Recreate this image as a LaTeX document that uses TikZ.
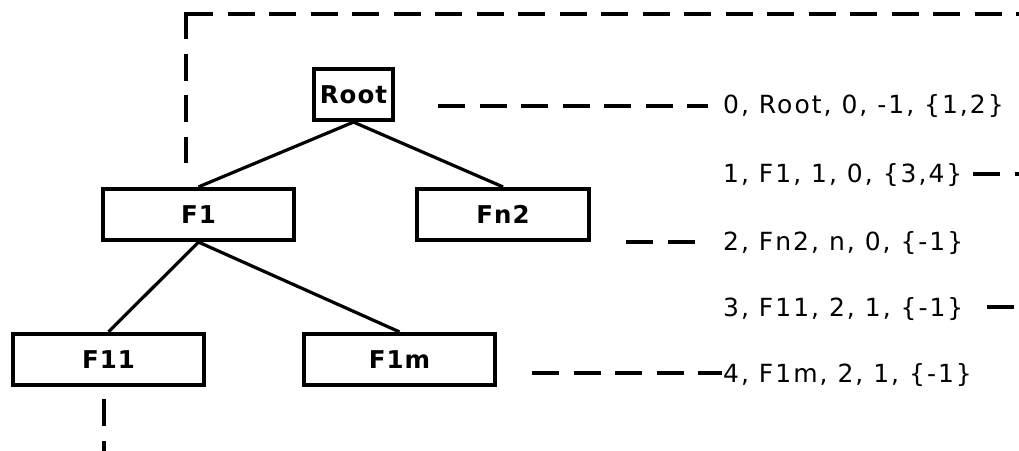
\documentclass[tikz,border=0pt]{standalone}
\usepackage{fontspec}
\setmainfont{DejaVu Sans}[LetterSpace=8]
\newfontfamily\labelfont{DejaVu Sans}[LetterSpace=4]
\begin{document}
\begin{tikzpicture}[x=1pt,y=-1pt,
  box/.style={draw, line width=4.2pt, rectangle, inner sep=0pt, minimum height=51pt,
    font=\labelfont\fontsize{24.5}{28}\selectfont\bfseries},
  edge/.style={line width=3.2pt},
  dsh/.style={line width=3.4pt, dash pattern=on 27pt off 14.5pt},
  rowtxt/.style={anchor=base west, inner sep=0pt, font=\fontsize{25}{30}\selectfont}]
\useasboundingbox (0,0) rectangle (1019,450);
\clip (0,0) rectangle (1019,450);
% tree boxes
\node[box, minimum width=79pt]  (root) at (353.5,94.5) {Root};
\node[box, minimum width=191pt] (f1)   at (198.5,214.5) {F1};
\node[box, minimum width=172pt] (fn2)  at (503,214.5) {Fn2};
\node[box, minimum width=191pt] (f11)  at (108.5,359.5) {F11};
\node[box, minimum width=191pt] (f1m)  at (399.5,359.5) {F1m};
% tree edges
\draw[edge] (root.south) -- (f1.north);
\draw[edge] (root.south) -- (fn2.north);
\draw[edge] (f1.south) -- (f11.north);
\draw[edge] (f1.south) -- (f1m.north);
% table rows
\node[rowtxt] (r0) at (723,113) {0, Root, 0, -1, \{1,2\}};
\node[rowtxt] (r1) at (723,182) {1, F1, 1, 0, \{3,4\}};
\node[rowtxt] (r2) at (723,250) {2, Fn2, n, 0, \{-1\}};
\node[rowtxt] (r3) at (723,316) {3, F11, 2, 1, \{-1\}};
\node[rowtxt] (r4) at (723,382) {4, F1m, 2, 1, \{-1\}};
% dashed connectors
\coordinate (c0a) at (438,106);  \coordinate (c0b) at (708,106);
\coordinate (c1a) at (973,174);  \coordinate (c1b) at (1045,174);
\coordinate (c2a) at (626,242);  \coordinate (c2b) at (695,242);
\coordinate (c3a) at (987,307);  \coordinate (c3b) at (1045,307);
\coordinate (c4a) at (532,373);  \coordinate (c4b) at (722,373);
\coordinate (tc) at (186,14);    \coordinate (tcu) at (186,12.3);
\coordinate (tv) at (186,163);   \coordinate (th) at (1045,14);
\coordinate (ba) at (104,399);   \coordinate (bb) at (104,470);
\draw[dsh] (c0a) -- (c0b);
\draw[dsh] (c1a) -- (c1b);
\draw[dsh] (c2a) -- (c2b);
\draw[dsh] (c3a) -- (c3b);
\draw[dsh] (c4a) -- (c4b);
\draw[dsh] (tc) -- (th);
\draw[dsh] (tcu) -- (tv);
\draw[dsh] (ba) -- (bb);
\end{tikzpicture}
\end{document}
